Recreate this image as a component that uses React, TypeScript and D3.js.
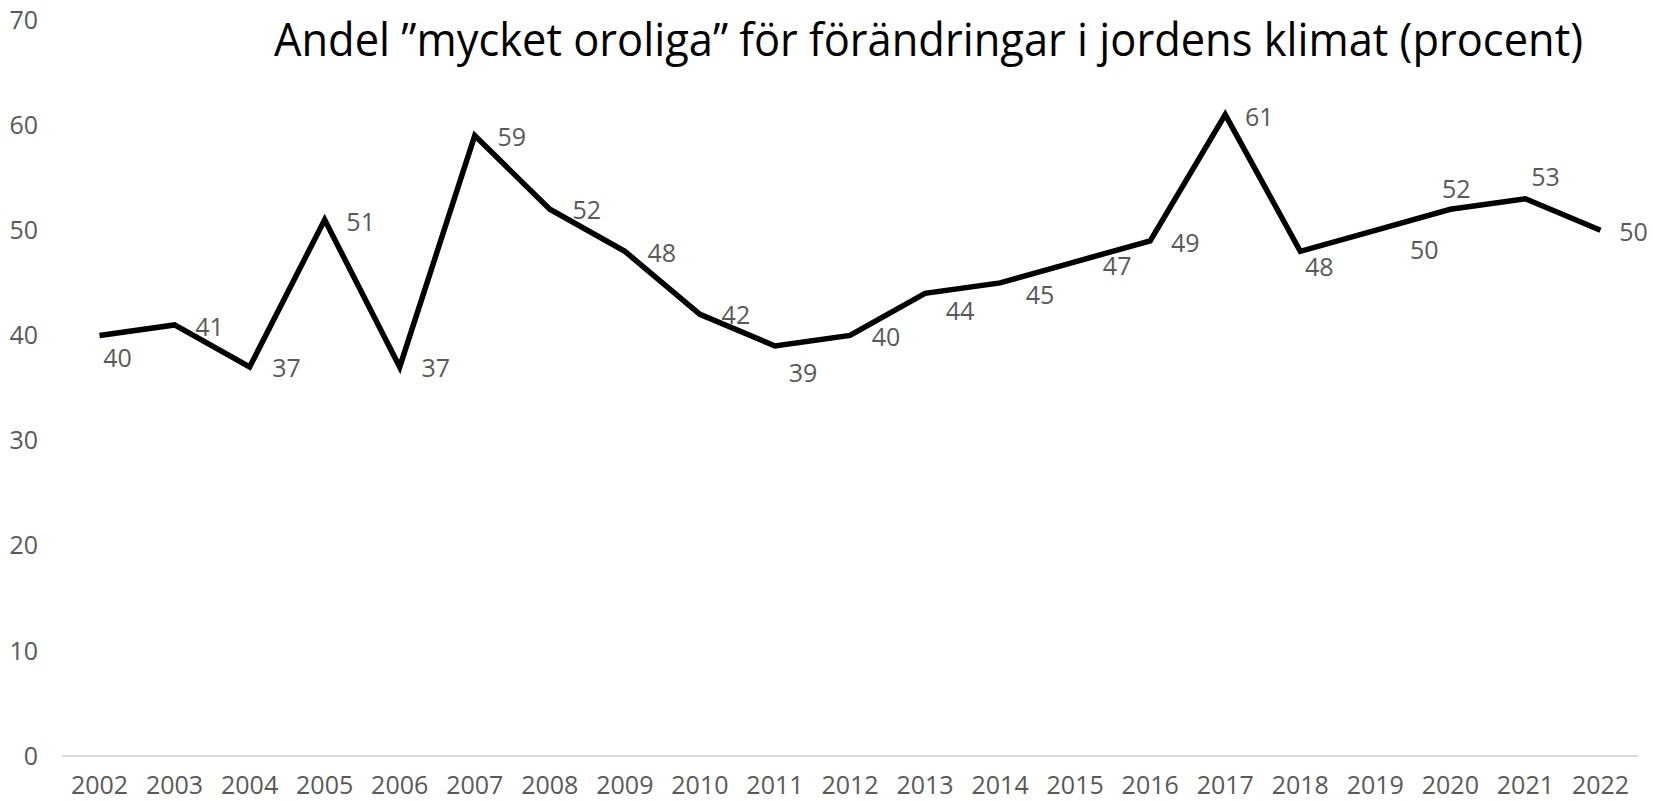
import * as d3 from 'd3';

const years = ['2002', '2003', '2004', '2005', '2006', '2007', '2008', '2009', '2010', '2011', '2012',
  '2013', '2014', '2015', '2016', '2017', '2018', '2019', '2020', '2021', '2022'];
const shares = [40, 41, 37, 51, 37, 59, 52, 48, 42, 39, 40, 44, 45, 47, 49, 61, 48, 50, 52, 53, 50];
const yTicks = [0, 10, 20, 30, 40, 50, 60, 70];
const title = 'Andel ”mycket oroliga” för förändringar i jordens klimat (procent)';

// label offsets from each point (Excel's auto placement)
const labelOffsets: [number, number][] = [
  [18, 23], [35, 2], [37, 1], [36, 2], [36, 1], [37, 2], [37, 1], [37, 2], [36, 1], [28, 27], [36, 2],
  [35, 18], [40, 12], [42, 4], [35, 2], [34, 3], [19, 16], [49, 20], [6, -20], [20, -21], [33, 2],
];

export default function App() {
  const width = 1653;
  const height = 801;
  const left = 62;
  const right = 1638;
  const top = 20;
  const bottom = 756;

  const x = d3.scalePoint<string>().domain(years).range([left, right]).padding(0.5);
  const y = d3.scaleLinear().domain([0, 70]).range([bottom, top]);

  const line = d3
    .line<number>()
    .x((_, i) => x(years[i]) ?? 0)
    .y((d) => y(d));

  const font = "'Open Sans', 'Noto Sans', sans-serif";
  const grey = '#595959';

  return (
    <svg
      width={width}
      height={height}
      viewBox={`0 0 ${width} ${height}`}
      style={{ position: 'absolute', left: 0, top: 0, background: '#fff' }}
      fontFamily={font}
    >
      <text x={274} y={56} fontSize={45} fill="#000" textLength={1309} lengthAdjust="spacingAndGlyphs">
        {title}
      </text>

      {yTicks.map((t) => (
        <text key={t} x={38} y={y(t)} dy="0.35em" textAnchor="end" fontSize={25} fill={grey}>
          {t}
        </text>
      ))}

      <line x1={left} x2={right} y1={bottom} y2={bottom} stroke="#d9d9d9" strokeWidth={2} />

      {years.map((yr) => (
        <text key={yr} x={x(yr)} y={794} textAnchor="middle" fontSize={25} fill={grey}>
          {yr}
        </text>
      ))}

      <path d={line(shares) ?? ''} fill="none" stroke="#000" strokeWidth={5.5} strokeLinejoin="miter" />

      {shares.map((v, i) => (
        <text
          key={years[i]}
          x={(x(years[i]) ?? 0) + labelOffsets[i][0]}
          y={y(v) + labelOffsets[i][1]}
          dy="0.35em"
          textAnchor="middle"
          fontSize={25}
          fill={grey}
        >
          {v}
        </text>
      ))}
    </svg>
  );
}
